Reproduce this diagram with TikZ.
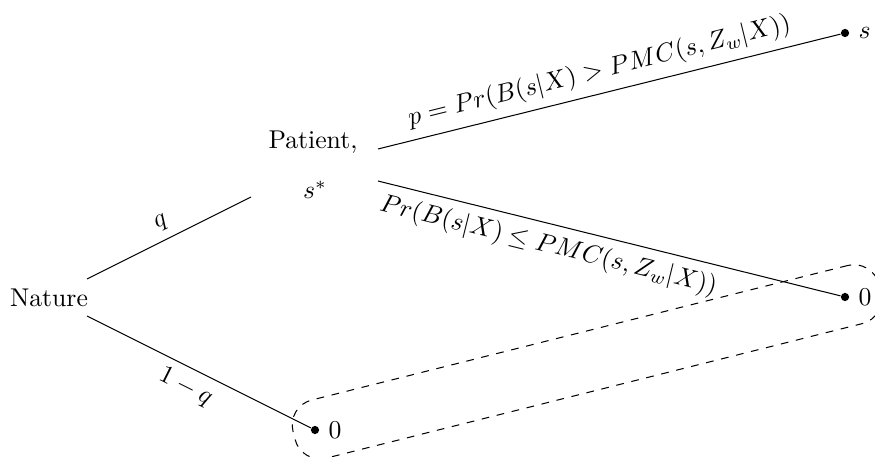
\documentclass[tikz,border=0pt]{standalone}
\usetikzlibrary{calc}
\begin{document}
\begin{tikzpicture}[x=0.389pt,y=-0.389pt,
  dot/.style={circle,fill,inner sep=0pt,minimum size=3.2pt},
  branch/.style={line width=0.4pt},
  groupbox/.style={draw,dashed,rounded corners=10pt,inner sep=0pt,
    minimum width=235pt,minimum height=23.3pt,rotate=14.09}]
\useasboundingbox (0,0) rectangle (875,457);
\node (nature) at (49,298) {Nature};
\node (patient) at (313,142) {Patient,};
\node (sstar) at (315,190) {$s^*$};
\coordinate (na) at (87,279);
\coordinate (nb) at (87,316);
\coordinate (pin) at (251,197);
\coordinate (pa) at (378,149);
\coordinate (pb) at (378,181);
\node[dot,label={right:$s$}] (ds) at (845,33) {};
\node[dot,label={right:$0$}] (d1) at (845,297) {};
\node[dot,label={right:$0$}] (d2) at (315,430) {};
\draw[branch] (na) -- node[above,sloped]{$q$} (pin);
\draw[branch] (nb) -- node[below,sloped,pos=0.48]{$1-q$} (d2);
\draw[branch] (pa) -- node[above,sloped,pos=0.49]{$p = Pr(B(s|X) > PMC(s, Z_w|X))$} (ds);
\draw[branch] (pb) -- node[below,sloped,pos=0.38]{$Pr(B(s|X) \leq PMC(s, Z_w|X))$} (d1);
\node[groupbox] (grp) at ($(d1)!0.5!(d2)+(7,-1.7)$) {};
\end{tikzpicture}
\end{document}
